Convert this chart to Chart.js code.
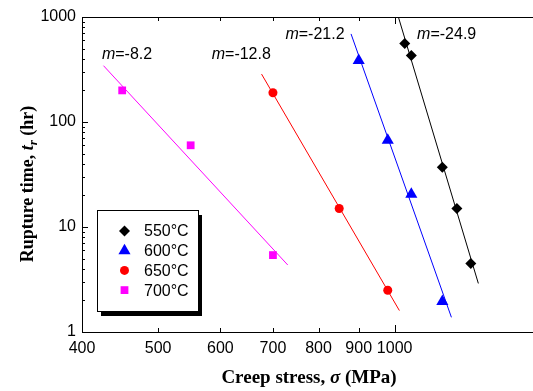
<!DOCTYPE html>
<html>
<head>
<meta charset="utf-8">
<script src="https://cdn.jsdelivr.net/npm/chart.js@4.4.1/dist/chart.umd.min.js"></script>
<style>
    html, body { margin: 0; padding: 0; background: #fff; }
    #wrap { width: 533px; height: 391px; }
</style>
</head>
<body>
<div id="wrap"><canvas id="chart" width="533" height="391"></canvas></div>
<script>

// rupture tests, one set per temperature
const temps = ['550°C', '600°C', '650°C', '700°C']

const stress550 = [1030, 1050, 1150, 1200, 1250]
const rupture550 = [560, 430, 37, 15, 4.5]
const stress600 = [900, 980, 1050, 1150]
const rupture600 = [385, 67, 20.5, 1.95]
const stress650 = [700, 850, 980]
const rupture650 = [190, 15, 2.5]
const stress700 = [450, 550, 700]
const rupture700 = [200, 60, 5.4]

// power-law fit lines, end points
const fitStress550 = [1011, 1278]
const fitRupture550 = [1000, 2.9]
const fitStress600 = [880, 1181]
const fitRupture600 = [690, 1.38]
const fitStress650 = [677, 1014]
const fitRupture650 = [286, 1.6]
const fitStress700 = [426, 731]
const fitRupture700 = [344, 4.35]

// stress exponents and where their labels sit (left edge, baseline)
const slopes = ['-24.9', '-21.2', '-12.8', '-8.2']
const slopeLabelStress = [1068, 726, 585, 424]
const slopeLabelRupture = [613, 613, 398, 398]

const stressTicks = [400, 500, 600, 700, 800, 900, 1000]
const ruptureTicks = [1, 10, 100, 1000]

const colors = ['#000000', '#0000ff', '#ff0000', '#ff00ff']
const pointStyles = ['rectRot', 'triangle', 'circle', 'rect']
const pointRadii = [5.5, 7, 4.5, 5.5]

const SANS = '"Liberation Sans", Arial, sans-serif'
const SERIF = '"Liberation Serif", "Times New Roman", serif'

const toPoints = (xs, ys) => xs.map((x, i) => ({x: x, y: ys[i]}))

const pointSets = [
    toPoints(stress550, rupture550),
    toPoints(stress600, rupture600),
    toPoints(stress650, rupture650),
    toPoints(stress700, rupture700),
]
const fitSets = [
    toPoints(fitStress550, fitRupture550),
    toPoints(fitStress600, fitRupture600),
    toPoints(fitStress650, fitRupture650),
    toPoints(fitStress700, fitRupture700),
]

const datasets = []
fitSets.forEach((data, i) => {
    datasets.push({
        label: temps[i] + ' fit',
        data: data,
        showLine: true,
        borderColor: colors[i],
        borderWidth: 1,
        pointRadius: 0,
        order: 1,
    })
})
pointSets.forEach((data, i) => {
    datasets.push({
        label: temps[i],
        data: data,
        showLine: false,
        pointStyle: pointStyles[i],
        pointRadius: pointRadii[i],
        pointBackgroundColor: colors[i],
        pointBorderColor: colors[i],
        pointBorderWidth: 0,
        order: 0,
    })
})


/**
 * draws a row of text pieces with their own fonts, starting at x
 * @param {CanvasRenderingContext2D} ctx
 * @param {{text: string, font: string, dy?: number}[]} runs
 */
function drawRuns(ctx, runs, x, y) {
    let cx = x
    runs.forEach(run => {
        ctx.font = run.font
        ctx.fillText(run.text, cx, y + (run.dy || 0))
        cx += ctx.measureText(run.text).width
    })
}

function runsWidth(ctx, runs) {
    return runs.reduce((w, run) => {
        ctx.font = run.font
        return w + ctx.measureText(run.text).width
    }, 0)
}


const framePlugin = {
    id: 'frame',
    afterDraw(chart) {
        const ctx = chart.ctx
        const area = chart.chartArea
        const xs = chart.scales.x
        const ys = chart.scales.y

        ctx.save()
        ctx.strokeStyle = '#000'
        ctx.lineWidth = 1

        // axes box: left, top, bottom
        ctx.beginPath()
        ctx.moveTo(area.right, area.top + 0.5)
        ctx.lineTo(area.left + 0.5, area.top + 0.5)
        ctx.lineTo(area.left + 0.5, area.bottom + 0.5)
        ctx.lineTo(area.right, area.bottom + 0.5)
        ctx.stroke()

        // inward ticks on bottom and top
        ctx.beginPath()
        stressTicks.forEach(v => {
            const px = Math.round(xs.getPixelForValue(v)) + 0.5
            const len = v === 1000 ? 7 : 4
            ctx.moveTo(px, area.bottom)
            ctx.lineTo(px, area.bottom - len)
            ctx.moveTo(px, area.top)
            ctx.lineTo(px, area.top + len)
        })
        // left ticks, decades plus minor steps
        for (let dec = 1; dec < 1000; dec *= 10) {
            for (let k = 1; k <= 10; k++) {
                const py = Math.round(ys.getPixelForValue(dec * k)) + 0.5
                const len = (k === 1 || k === 10) ? 6 : 3
                ctx.moveTo(area.left, py)
                ctx.lineTo(area.left + len, py)
            }
        }
        ctx.stroke()

        // stress exponent labels
        ctx.fillStyle = '#000'
        ctx.textBaseline = 'alphabetic'
        ctx.textAlign = 'left'
        slopes.forEach((s, i) => {
            const px = xs.getPixelForValue(slopeLabelStress[i])
            const py = ys.getPixelForValue(slopeLabelRupture[i])
            drawRuns(ctx, [
                {text: 'm', font: 'italic 16px ' + SANS},
                {text: '=' + s, font: '16px ' + SANS},
            ], px, py)
        })

        // legend box with drop shadow
        const bx = area.left + 15
        const by = area.bottom - 122
        const bw = 101
        const bh = 101
        ctx.fillStyle = '#000'
        ctx.fillRect(bx + 4, by + 5, bw, bh)
        ctx.fillStyle = '#fff'
        ctx.fillRect(bx, by, bw, bh)
        ctx.strokeRect(bx + 0.5, by + 0.5, bw, bh)

        temps.forEach((t, i) => {
            const ry = by + 21 + i * 19.7
            ctx.fillStyle = colors[i]
            ctx.strokeStyle = colors[i]
            Chart.helpers.drawPoint(ctx, {
                pointStyle: pointStyles[i],
                radius: pointRadii[i],
                rotation: 0,
                borderWidth: 0,
            }, bx + 27.5, ry)
            ctx.fillStyle = '#000'
            ctx.font = '16px ' + SANS
            ctx.textBaseline = 'middle'
            ctx.fillText(t, bx + 47, ry + 1)
        })

        // axis titles
        ctx.fillStyle = '#000'
        ctx.textBaseline = 'alphabetic'
        const xTitle = [
            {text: 'Creep stress, ', font: 'bold 19px ' + SERIF},
            {text: 'σ', font: 'italic bold 19px ' + SERIF},
            {text: ' (MPa)', font: 'bold 19px ' + SERIF},
        ]
        const xw = runsWidth(ctx, xTitle)
        drawRuns(ctx, xTitle, 309 - xw / 2, 383)

        const yTitle = [
            {text: 'Rupture time, ', font: 'bold 18px ' + SERIF},
            {text: 't', font: 'italic bold 18px ' + SERIF},
            {text: 'r', font: 'italic bold 13px ' + SERIF, dy: 4},
            {text: ' (hr)', font: 'bold 18px ' + SERIF},
        ]
        const yw = runsWidth(ctx, yTitle)
        ctx.translate(33, 184)
        ctx.rotate(-Math.PI / 2)
        drawRuns(ctx, yTitle, -yw / 2, 0)

        ctx.restore()
    }
}


const chart = new Chart(document.getElementById('chart'), {
    type: 'scatter',
    data: {datasets: datasets},
    options: {
        responsive: false,
        animation: false,
        layout: {
            autoPadding: false,
            padding: {top: 17, right: 0, bottom: 0, left: 0},
        },
        plugins: {
            legend: {display: false},
            tooltip: {enabled: false},
        },
        scales: {
            x: {
                type: 'logarithmic',
                min: 400,
                max: 1500,
                afterBuildTicks: scale => {
                    scale.ticks = stressTicks.map(v => ({value: v}))
                },
                afterFit: scale => {
                    // axis runs to the right edge, no room kept for labels there
                    scale.height = 59
                    scale.paddingLeft = 0
                    scale.paddingRight = 0
                },
                grid: {display: false, drawTicks: false},
                border: {display: false},
                ticks: {
                    callback: v => String(v),
                    autoSkip: false,
                    maxRotation: 0,
                    padding: 7,
                    color: '#000',
                    font: {family: SANS, size: 16},
                },
            },
            y: {
                type: 'logarithmic',
                min: 1,
                max: 1000,
                afterBuildTicks: scale => {
                    scale.ticks = ruptureTicks.map(v => ({value: v}))
                },
                afterFit: scale => {
                    scale.width = 82
                },
                grid: {display: false, drawTicks: false},
                border: {display: false},
                ticks: {
                    callback: v => String(v),
                    autoSkip: false,
                    padding: 6,
                    color: '#000',
                    font: {family: SANS, size: 16},
                },
            },
        },
    },
    plugins: [framePlugin],
})
</script>
</body>
</html>
